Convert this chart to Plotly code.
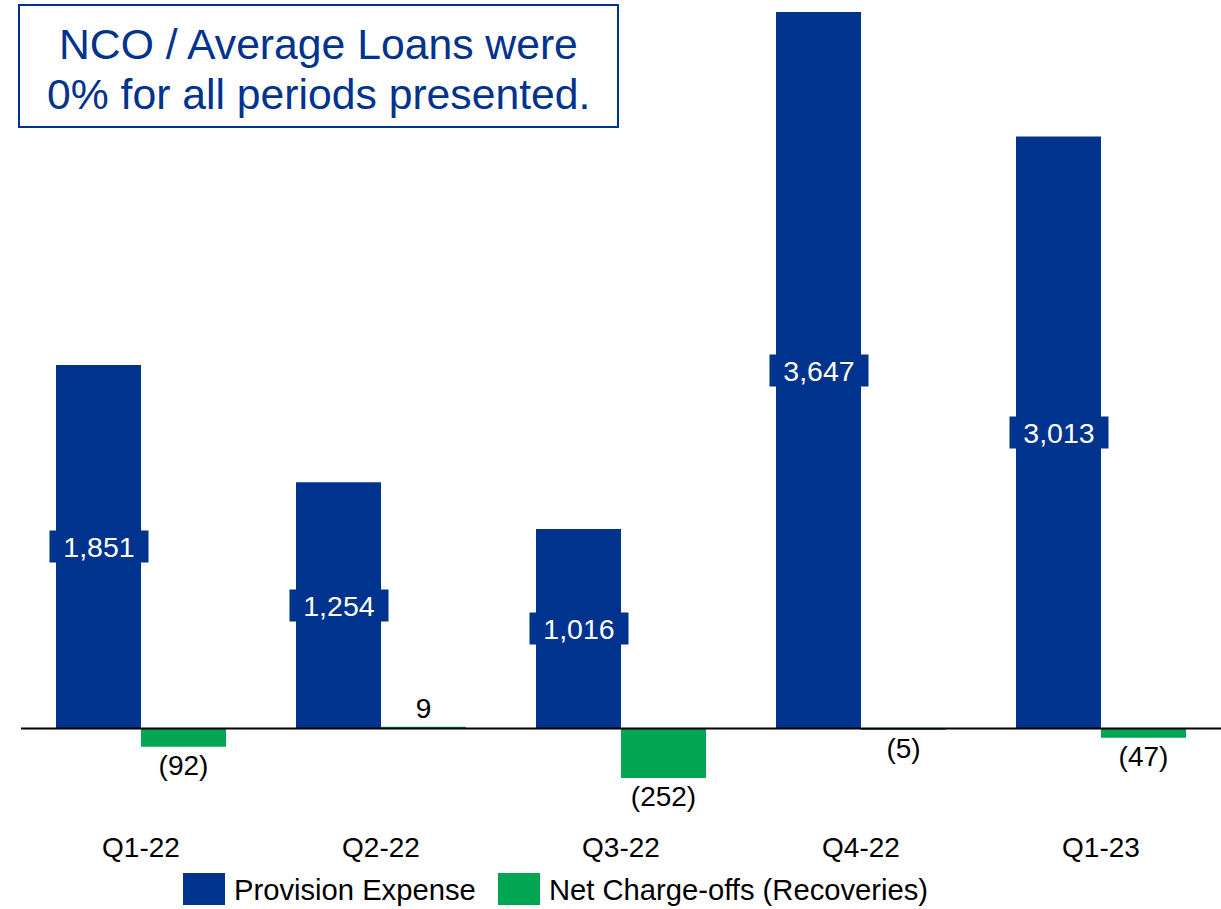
import plotly.graph_objects as go

# Quarterly credit figures
quarters = ["Q1-22", "Q2-22", "Q3-22", "Q4-22", "Q1-23"]
provision_expense = [1851, 1254, 1016, 3647, 3013]
net_charge_offs = [-92, 9, -252, -5, -47]

BLUE = "#00338D"
GREEN = "#00A651"
FONT = "Liberation Sans, Arial, sans-serif"

W, H = 1221, 909
ML, MR, MT, MB = 21, 0, 0, 81
PW, PH = W - ML - MR, H - MT - MB


def fmt(v):
    return f"({abs(v):,})" if v < 0 else f"{v:,}"


def px_x(x):
    return (x - ML) / PW


def px_y(y):
    return (H - MB - y) / PH


fig = go.Figure()
fig.add_bar(
    x=quarters, y=provision_expense, name="Provision Expense",
    marker=dict(color=BLUE, line=dict(width=0)),
)
fig.add_bar(
    x=quarters, y=net_charge_offs, name="Net Charge-offs (Recoveries)",
    marker=dict(color=GREEN, line=dict(width=0)),
    text=[fmt(v) for v in net_charge_offs], textposition="outside",
    textfont=dict(family=FONT, size=28, color="black"),
    cliponaxis=False,
)

annotations = []
# value labels centred in the provision bars, on a blue tag
for q, v in zip(quarters, provision_expense):
    annotations.append(dict(
        x=q, y=v / 2, xref="x", yref="y", xshift=-42.5,
        text=fmt(v), showarrow=False,
        font=dict(family=FONT, size=28.5, color="white"),
        bgcolor=BLUE, width=98, height=31, borderpad=0,
        xanchor="center", yanchor="middle",
    ))

# boxed note in the upper left
annotations.append(dict(
    x=px_x(318), y=px_y(44), xref="paper", yref="paper",
    text="NCO / Average Loans were", showarrow=False,
    font=dict(family=FONT, size=42.7, color=BLUE),
    xanchor="center", yanchor="middle",
))
annotations.append(dict(
    x=px_x(318), y=px_y(94), xref="paper", yref="paper",
    text="0% for all periods presented.", showarrow=False,
    font=dict(family=FONT, size=42.7, color=BLUE),
    xanchor="center", yanchor="middle",
))

# legend entries
legend_items = [
    ("Provision Expense", BLUE, 183),
    ("Net Charge-offs (Recoveries)", GREEN, 498),
]
shapes = [
    dict(type="rect", xref="paper", yref="paper",
         x0=px_x(19), x1=px_x(618), y0=px_y(5), y1=px_y(127),
         line=dict(color=BLUE, width=2), fillcolor="white", layer="below"),
    dict(type="line", xref="paper", yref="y", x0=0, x1=1, y0=0, y1=0,
         line=dict(color="black", width=2), layer="above"),
]
for label, color, x0 in legend_items:
    shapes.append(dict(type="rect", xref="paper", yref="paper",
                       x0=px_x(x0), x1=px_x(x0 + 42), y0=px_y(873), y1=px_y(905),
                       line=dict(width=0), fillcolor=color))
    annotations.append(dict(
        x=px_x(x0 + 49), y=px_y(890), xref="paper", yref="paper",
        text=label, showarrow=False, font=dict(family=FONT, size=29.2, color="black"),
        xanchor="left", yanchor="middle",
    ))

fig.update_layout(
    width=W, height=H, margin=dict(l=ML, r=MR, t=MT, b=MB),
    paper_bgcolor="white", plot_bgcolor="white",
    barmode="group", bargap=0.2917, bargroupgap=0,
    showlegend=False,
    font=dict(family=FONT, size=28, color="black"),
    annotations=annotations, shapes=shapes,
    xaxis=dict(showline=False, showgrid=False, ticks="", zeroline=False,
               tickfont=dict(family=FONT, size=28, color="black")),
    yaxis=dict(visible=False, range=[-506, 3708], showgrid=False, zeroline=False),
)

fig.write_html("out.html")
